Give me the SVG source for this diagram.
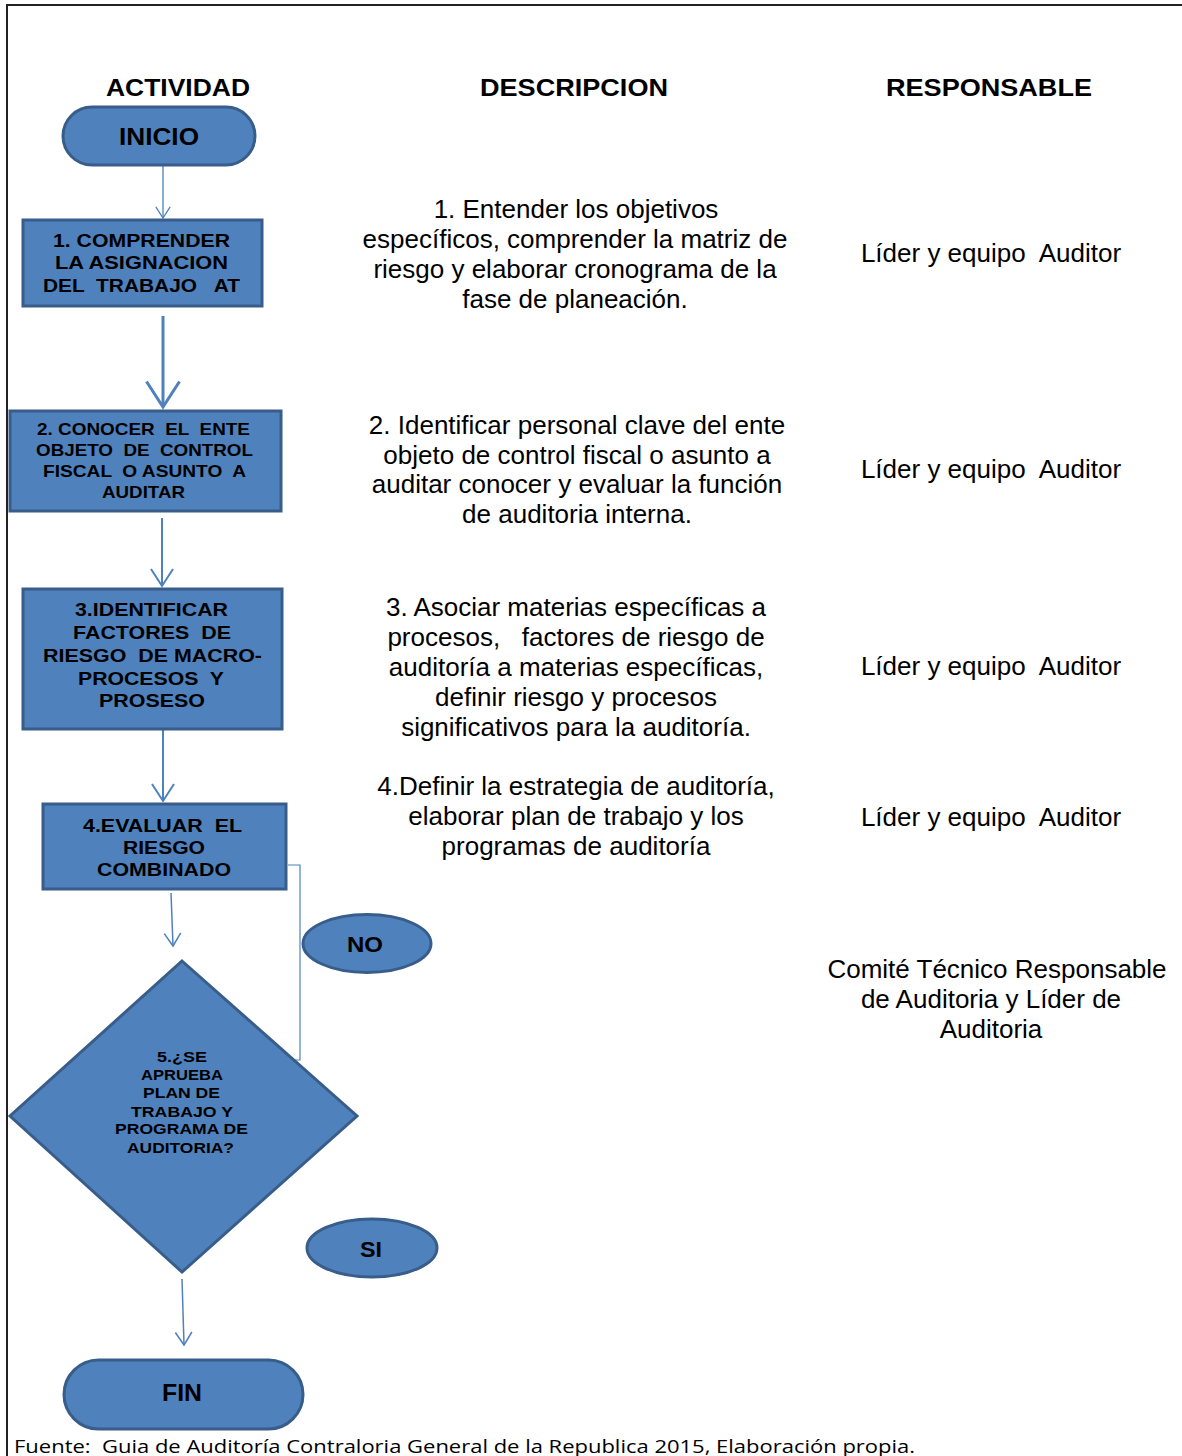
<svg xmlns="http://www.w3.org/2000/svg" width="1182" height="1456" viewBox="0 0 1182 1456">
<defs>
<style>
text{font-family:"Liberation Sans",Arial,sans-serif;fill:#000;white-space:pre}
.hd{font-size:23px;font-weight:bold;text-anchor:middle}
.bx{font-weight:bold;text-anchor:middle}
.ds{font-size:26px;text-anchor:middle}
.rs{font-size:26px;text-anchor:middle}
.shape{fill:#4F81BD;stroke:#385D8A;stroke-width:3}
.conn{fill:none;stroke:#4F81BD}
.ft{font-family:"Open Sans","Noto Sans",sans-serif;font-size:18px}
</style>
<marker id="arr" viewBox="-10 -7 11 14" markerWidth="11" markerHeight="14" refX="0" refY="0" orient="auto" markerUnits="strokeWidth" overflow="visible">
<path d="M-8.5,-5.5 L0,0 L-8.5,5.5" fill="none" stroke="#4F81BD" stroke-width="1"/>
</marker>
</defs>
<rect x="0" y="0" width="1182" height="1456" fill="#fff"/>
<path d="M7,1456 L7,5 L1182,5" fill="none" stroke="#222" stroke-width="2"/>

<g id="headers">
<text class="hd" x="178" y="96" textLength="144" lengthAdjust="spacingAndGlyphs">ACTIVIDAD</text>
<text class="hd" x="574" y="96" textLength="188" lengthAdjust="spacingAndGlyphs">DESCRIPCION</text>
<text class="hd" x="989" y="96" textLength="206" lengthAdjust="spacingAndGlyphs">RESPONSABLE</text>
</g>

<g id="connectors">
<path class="conn" d="M163,166 L163,218" stroke-width="1.3" marker-end="url(#arr)"/>
<path class="conn" d="M163,316 L163,407" stroke-width="3" marker-end="url(#arr)"/>
<path class="conn" d="M162,518 L162,586" stroke-width="2" marker-end="url(#arr)"/>
<path class="conn" d="M163,730 L163,801" stroke-width="2" marker-end="url(#arr)"/>
<path class="conn" d="M171,893 L173,946" stroke-width="1.5" marker-end="url(#arr)"/>
<path class="conn" d="M288,865 L300,865 L300,1060 L250,1060" stroke-width="1.2"/>
<path class="conn" d="M182,1279 L184,1345" stroke-width="1.5" marker-end="url(#arr)"/>
</g>

<g id="inicio">
<rect class="shape" x="63" y="107" width="192" height="58" rx="29" ry="29"/>
<text class="bx" x="159" y="145" font-size="23" textLength="80" lengthAdjust="spacingAndGlyphs">INICIO</text>
</g>

<g id="act1">
<rect class="shape" x="23" y="220" width="239" height="86"/>
<text class="bx" font-size="18.5" x="141.5" y="247" textLength="177" lengthAdjust="spacingAndGlyphs">1. COMPRENDER</text>
<text class="bx" font-size="18.5" x="141.5" y="269" textLength="173" lengthAdjust="spacingAndGlyphs">LA ASIGNACION</text>
<text class="bx" font-size="18.5" x="141.5" y="292" textLength="197" lengthAdjust="spacingAndGlyphs">DEL  TRABAJO   AT</text>
</g>

<g id="act2">
<rect class="shape" x="10" y="411" width="271" height="100"/>
<text class="bx" font-size="17" x="143.5" y="435" textLength="213" lengthAdjust="spacingAndGlyphs">2. CONOCER  EL  ENTE</text>
<text class="bx" font-size="17" x="144.5" y="456" textLength="217" lengthAdjust="spacingAndGlyphs">OBJETO  DE  CONTROL</text>
<text class="bx" font-size="17" x="144.5" y="477" textLength="203" lengthAdjust="spacingAndGlyphs">FISCAL  O ASUNTO  A</text>
<text class="bx" font-size="17" x="143.5" y="498" textLength="83" lengthAdjust="spacingAndGlyphs">AUDITAR</text>
</g>

<g id="act3">
<rect class="shape" x="23" y="589" width="259" height="140"/>
<text class="bx" font-size="18.5" x="151.5" y="616" textLength="153" lengthAdjust="spacingAndGlyphs">3.IDENTIFICAR</text>
<text class="bx" font-size="18.5" x="152" y="639" textLength="158" lengthAdjust="spacingAndGlyphs">FACTORES  DE</text>
<text class="bx" font-size="18.5" x="152.5" y="662" textLength="219" lengthAdjust="spacingAndGlyphs">RIESGO  DE MACRO-</text>
<text class="bx" font-size="18.5" x="151" y="685" textLength="146" lengthAdjust="spacingAndGlyphs">PROCESOS  Y</text>
<text class="bx" font-size="18.5" x="152" y="707" textLength="106" lengthAdjust="spacingAndGlyphs">PROSESO</text>
</g>

<g id="act4">
<rect class="shape" x="43" y="804" width="243" height="85"/>
<text class="bx" font-size="18.5" x="162.5" y="832" textLength="159" lengthAdjust="spacingAndGlyphs">4.EVALUAR  EL</text>
<text class="bx" font-size="18.5" x="164" y="854" textLength="82" lengthAdjust="spacingAndGlyphs">RIESGO</text>
<text class="bx" font-size="18.5" x="164" y="876" textLength="134" lengthAdjust="spacingAndGlyphs">COMBINADO</text>
</g>

<g id="decision">
<polygon class="shape" points="182,961 357,1116 182,1272 10,1116"/>
<text class="bx" font-size="15.5" x="182" y="1062" textLength="50" lengthAdjust="spacingAndGlyphs">5.¿SE</text>
<text class="bx" font-size="15.5" x="182" y="1080" textLength="82" lengthAdjust="spacingAndGlyphs">APRUEBA</text>
<text class="bx" font-size="15.5" x="181.5" y="1098" textLength="77" lengthAdjust="spacingAndGlyphs">PLAN DE</text>
<text class="bx" font-size="15.5" x="182" y="1117" textLength="102" lengthAdjust="spacingAndGlyphs">TRABAJO Y</text>
<text class="bx" font-size="15.5" x="181.5" y="1134" textLength="133" lengthAdjust="spacingAndGlyphs">PROGRAMA DE</text>
<text class="bx" font-size="15.5" x="180.5" y="1153" textLength="107" lengthAdjust="spacingAndGlyphs">AUDITORIA?</text>
</g>

<g id="no">
<ellipse class="shape" cx="367" cy="943.5" rx="64" ry="29"/>
<text class="bx" font-size="22" x="365" y="952" textLength="36" lengthAdjust="spacingAndGlyphs">NO</text>
</g>

<g id="si">
<ellipse class="shape" cx="372" cy="1248" rx="65" ry="29"/>
<text class="bx" font-size="22" x="371" y="1257" textLength="22" lengthAdjust="spacingAndGlyphs">SI</text>
</g>

<g id="fin">
<rect class="shape" x="64" y="1360" width="239" height="69" rx="34.5" ry="34.5"/>
<text class="bx" font-size="24" x="182" y="1401" textLength="40" lengthAdjust="spacingAndGlyphs">FIN</text>
</g>

<g id="desc1">
<text class="ds" x="576" y="218">1. Entender los objetivos</text>
<text class="ds" x="575" y="248">específicos, comprender la matriz de</text>
<text class="ds" x="575" y="278">riesgo y elaborar cronograma de la</text>
<text class="ds" x="575" y="308">fase de planeación.</text>
</g>
<g id="desc2">
<text class="ds" x="577" y="434">2. Identificar personal clave del ente</text>
<text class="ds" x="577" y="464">objeto de control fiscal o asunto a</text>
<text class="ds" x="577" y="493">auditar conocer y evaluar la función</text>
<text class="ds" x="577" y="523">de auditoria interna.</text>
</g>
<g id="desc3">
<text class="ds" x="576" y="616">3. Asociar materias específicas a</text>
<text class="ds" x="576" y="646">procesos,   factores de riesgo de</text>
<text class="ds" x="576" y="676">auditoría a materias específicas,</text>
<text class="ds" x="576" y="706">definir riesgo y procesos</text>
<text class="ds" x="576" y="736">significativos para la auditoría.</text>
</g>
<g id="desc4">
<text class="ds" x="576" y="795">4.Definir la estrategia de auditoría,</text>
<text class="ds" x="576" y="825">elaborar plan de trabajo y los</text>
<text class="ds" x="576" y="855">programas de auditoría</text>
</g>

<g id="resp">
<text class="rs" x="991" y="262">Líder y equipo  Auditor</text>
<text class="rs" x="991" y="478">Líder y equipo  Auditor</text>
<text class="rs" x="991" y="675">Líder y equipo  Auditor</text>
<text class="rs" x="991" y="826">Líder y equipo  Auditor</text>
<text class="rs" x="997" y="978">Comité Técnico Responsable</text>
<text class="rs" x="991" y="1008">de Auditoria y Líder de</text>
<text class="rs" x="991" y="1038">Auditoria</text>
</g>

<text class="ft" x="14" y="1453" textLength="901" lengthAdjust="spacingAndGlyphs">Fuente:  Guia de Auditoría Contraloria General de la Republica 2015, Elaboración propia.</text>
</svg>
